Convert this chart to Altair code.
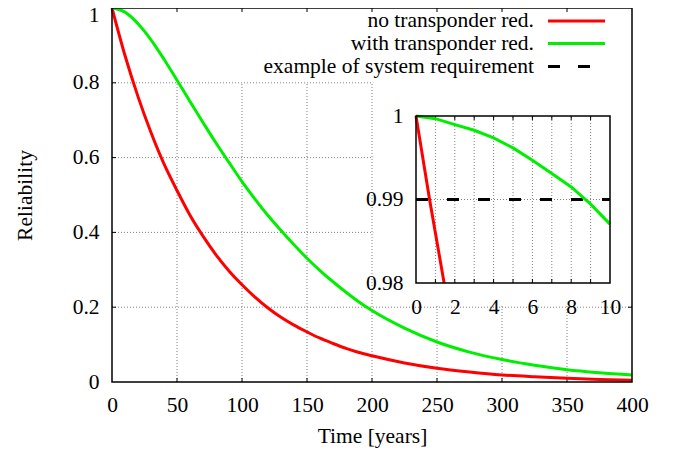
import altair as alt
import pandas as pd

# ---------------- data ----------------
years = [0, 10, 20, 30, 40, 50, 60, 70, 80, 90, 100, 110, 120, 130, 140, 150,
         160, 170, 180, 190, 200, 225, 250, 275, 300, 325, 350, 375, 400]
red_main = [1.000, 0.873, 0.763, 0.667, 0.583, 0.512, 0.446, 0.390, 0.340, 0.297,
            0.260, 0.227, 0.198, 0.173, 0.152, 0.134, 0.117, 0.103, 0.090, 0.079,
            0.070, 0.051, 0.037, 0.027, 0.019, 0.014, 0.010, 0.007, 0.005]
green_main = [1.000, 0.989, 0.958, 0.915, 0.863, 0.807, 0.750, 0.694, 0.639, 0.587,
              0.536, 0.489, 0.445, 0.405, 0.367, 0.331, 0.298, 0.268, 0.240, 0.214,
              0.191, 0.144, 0.107, 0.080, 0.060, 0.045, 0.033, 0.025, 0.019]

inset_years = [0, 1, 2, 3, 4, 5, 6, 7, 8, 9, 10]
green_inset = [1.0, 0.99968, 0.99896, 0.99829, 0.99737, 0.99618, 0.99470,
               0.99311, 0.99151, 0.98944, 0.98705]
red_inset_years = [0, 0.7, 1.45]
red_inset = [1.0, 0.990, 0.980]
requirement = 0.99

legend_labels = ["no transponder red.", "with transponder red.",
                 "example of system requirement"]
series_colors = ["#ff0000", "#00ee00", "#000000"]

main_x_ticks = [0, 50, 100, 150, 200, 250, 300, 350, 400]
main_y_ticks = [0, 0.2, 0.4, 0.6, 0.8, 1.0]
inset_x_ticks = [0, 2, 4, 6, 8, 10]
inset_y_ticks = [0.98, 0.99, 1.0]
inset_grid_x = [1, 2, 3, 4, 5, 6, 7, 8, 9]

# ---------------- layout / style ----------------
W, H = 520, 374
FONT = "'Liberation Serif', 'Times New Roman', 'DejaVu Serif', serif"
FS = 21.5
IX0, IX1, IY0, IY1 = 304, 498, 108, 275   # inset plot box (pixels in plot area)
GRID = dict(color="#808080", strokeDash=[1, 2], strokeWidth=1)
TICK = 4

xs = alt.Scale(domain=[0, 400], nice=False, zero=False)
ys = alt.Scale(domain=[0, 1], nice=False, zero=False)
ixs = alt.Scale(domain=[0, 10], range=[IX0, IX1], nice=False, zero=False)
iys = alt.Scale(domain=[0.98, 1.0], range=[IY1, IY0], nice=False, zero=False)

ax_common = dict(grid=False, ticks=False, domain=False, labelFont=FONT,
                 labelFontSize=FS, labelColor="black", titleFont=FONT,
                 titleFontSize=FS, titleFontWeight="normal", titleColor="black",
                 zindex=1)
x_axis = alt.Axis(values=main_x_ticks, title="Time [years]", labelPadding=12,
                  titlePadding=10, labelFlush=False, **ax_common)
y_axis = alt.Axis(values=main_y_ticks, title="Reliability", format="~g",
                  labelPadding=13, titlePadding=36,
                  labelOffset={"condition": {"test": "datum.value === 1", "value": 7},
                               "value": 0},
                  **ax_common)
ix_axis = alt.Axis(values=inset_x_ticks, title=None, orient="bottom",
                   offset=-(H - IY1), labelPadding=13, labelFlush=False, **ax_common)
iy_axis = alt.Axis(values=inset_y_ticks, title=None, orient="left",
                   offset=-IX0, format="~g", labelPadding=13, **ax_common)


def MX(f="t"):
    return alt.X(f"{f}:Q", scale=xs, axis=x_axis)


def MY(f="R"):
    return alt.Y(f"{f}:Q", scale=ys, axis=y_axis)


def IX(f="t"):
    return alt.X(f"{f}:Q", scale=ixs, axis=ix_axis)


def IY(f="R"):
    return alt.Y(f"{f}:Q", scale=iys, axis=iy_axis)


# ---------------- main plot ----------------
gx = main_x_ticks[1:-1]
gy = main_y_ticks[1:-1]
vgrid = alt.Chart(pd.DataFrame({"t": gx, "R": [0] * len(gx), "R2": [0.8] * len(gx)})
                  ).mark_rule(**GRID).encode(x=MX(), y=MY(), y2="R2")
hgrid = alt.Chart(pd.DataFrame({"t": [0] * len(gy), "t2": [400] * len(gy), "R": gy})
                  ).mark_rule(**GRID).encode(x=MX(), x2="t2", y=MY())

dx = 400 * TICK / W
dy = TICK / H
tick_v = pd.DataFrame({"t": gx * 2,
                       "R": [1.0] * len(gx) + [0.0] * len(gx),
                       "R2": [1 - dy] * len(gx) + [dy] * len(gx)})
tick_h = pd.DataFrame({"R": gy * 2,
                       "t": [0.0] * len(gy) + [400 - dx] * len(gy),
                       "t2": [dx] * len(gy) + [400.0] * len(gy)})
ticks_v = alt.Chart(tick_v).mark_rule(color="black", strokeWidth=1).encode(
    x=MX(), y=MY(), y2="R2")
ticks_h = alt.Chart(tick_h).mark_rule(color="black", strokeWidth=1).encode(
    x=MX(), x2="t2", y=MY())

inset_bg = alt.Chart(pd.DataFrame({"t": [201], "t2": [400], "R": [0.203], "R2": [0.81]})
                     ).mark_rect(color="white").encode(x=MX(), x2="t2", y=MY(), y2="R2")

red_line = alt.Chart(pd.DataFrame({"t": years, "R": red_main})).mark_line(
    color=series_colors[0], strokeWidth=3, interpolate="monotone").encode(x=MX(), y=MY())
green_line = alt.Chart(pd.DataFrame({"t": years, "R": green_main})).mark_line(
    color=series_colors[1], strokeWidth=3, interpolate="monotone").encode(x=MX(), y=MY())

main = alt.layer(vgrid, hgrid, ticks_v, ticks_h, inset_bg, red_line, green_line)

# ---------------- inset ----------------
n = len(inset_grid_x)
ivgrid = alt.Chart(pd.DataFrame({"t": inset_grid_x, "R": [0.98] * n, "R2": [1.0] * n})
                   ).mark_rule(**GRID).encode(x=IX(), y=IY(), y2="R2")
ihgrid = alt.Chart(pd.DataFrame({"t": [0], "t2": [10], "R": [0.99]})
                   ).mark_rule(**GRID).encode(x=IX(), x2="t2", y=IY())
idy = 0.02 * TICK / (IY1 - IY0)
iticks = alt.Chart(pd.DataFrame({"t": inset_grid_x * 2,
                                 "R": [1.0] * n + [0.98] * n,
                                 "R2": [1.0 - idy] * n + [0.98 + idy] * n})
                   ).mark_rule(color="black", strokeWidth=1).encode(x=IX(), y=IY(), y2="R2")
req_line = alt.Chart(pd.DataFrame({"t": [0], "t2": [10], "R": [requirement]})
                     ).mark_rule(color=series_colors[2], strokeWidth=3,
                                 strokeDash=[12, 19]).encode(x=IX(), x2="t2", y=IY())
igreen = alt.Chart(pd.DataFrame({"t": inset_years, "R": green_inset})).mark_line(
    color=series_colors[1], strokeWidth=3).encode(x=IX(), y=IY())
ired = alt.Chart(pd.DataFrame({"t": red_inset_years, "R": red_inset})).mark_line(
    color=series_colors[0], strokeWidth=3).encode(x=IX(), y=IY())
iframe = alt.Chart(pd.DataFrame({"t": [0], "t2": [10], "R": [0.98], "R2": [1.0]})
                   ).mark_rect(fillOpacity=0, stroke="black", strokeWidth=1.5).encode(
    x=IX(), x2="t2", y=IY(), y2="R2")

inset = alt.layer(ivgrid, ihgrid, iticks, req_line, igreen, ired, iframe)

# ---------------- frame + key ----------------
frame = alt.Chart(pd.DataFrame({"a": [0]})).mark_rect(
    fillOpacity=0, stroke="black", strokeWidth=1.5).encode(
    x=alt.value(0), x2=alt.value(W), y=alt.value(0), y2=alt.value(H))

key_layers = []
key_rows = [13, 35.5, 58.5]
for i, (lab, col) in enumerate(zip(legend_labels, series_colors)):
    key_layers.append(
        alt.Chart(pd.DataFrame({"label": [lab]})).mark_text(
            align="right", baseline="middle", font=FONT, fontSize=FS, color="black"
        ).encode(text="label:N", x=alt.value(422), y=alt.value(key_rows[i])))
    rule_kw = dict(color=col, strokeWidth=3)
    if i == 2:
        rule_kw["strokeDash"] = [12, 18]
    key_layers.append(
        alt.Chart(pd.DataFrame({"label": [lab]})).mark_rule(**rule_kw).encode(
            x=alt.value(436), x2=alt.value(493), y=alt.value(key_rows[i])))

chart = alt.layer(main, inset, frame, *key_layers).resolve_scale(
    x="independent", y="independent"
).properties(
    width=W, height=H, autosize="none",
    padding={"left": 104, "top": 0, "right": 25, "bottom": 66},
).configure_view(strokeWidth=0)

chart.save("out.html", embed_options={"renderer": "svg", "actions": False})
